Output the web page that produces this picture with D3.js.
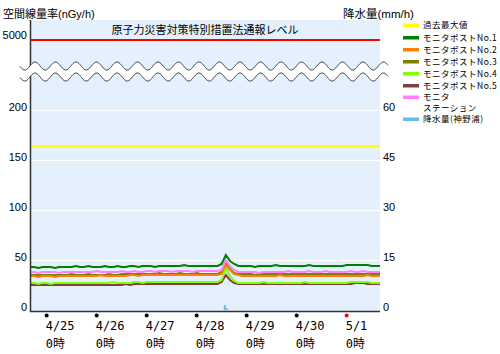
<!DOCTYPE html>
<html>
<head>
<meta charset="utf-8">
<script src="https://cdn.jsdelivr.net/npm/d3@7"></script>
<style>
  body { margin: 0; background: #fff; }
  svg text { font-family: "Liberation Sans", "Noto Sans CJK JP", sans-serif; }
</style>
</head>
<body>
<svg id="chart" width="500" height="354"></svg>
<script>
// 2-hourly readings, 4/24 16:00 .. 5/1 16:00 (nGy/h)
const startTime = new Date(2024, 3, 24, 16);
const stepHours = 2;

const post1 = [43,43,42,43,43,43,42,43,43,43,43,44,
  43,43,44,43,43,43,44,43,43,44,43,43,
  44,44,43,44,44,44,43,44,44,44,44,44,
  44,45,44,44,44,44,44,44,44,44,
  46,55,49,46,44,
  44,44,44,43,44,44,44,44,45,44,44,44,
  44,44,44,44,45,44,44,44,44,44,44,44,
  44,45,45,45,45,45,45,44,44,44];
const post2 = [34,34,33,34,34,34,33,34,34,34,34,34,
  34,34,34,34,34,35,34,34,34,34,34,34,
  35,35,34,35,35,35,35,35,35,35,35,35,
  35,35,35,35,35,35,35,35,35,35,
  36,45,40,36,35,
  34,34,34,34,34,34,34,34,34,35,34,34,
  34,34,34,34,34,34,34,34,34,34,34,34,
  34,34,34,34,34,34,35,34,34,34];
const post3 = [35,35,35,35,35,35,35,35,35,35,36,35,
  35,35,36,35,35,35,35,36,35,35,36,36,
  36,36,36,36,36,36,36,37,36,36,36,36,
  37,36,36,36,37,36,36,36,36,36,
  38,47,41,37,36,
  36,36,36,35,36,36,36,36,36,36,36,36,
  36,36,36,36,36,36,36,36,36,36,36,36,
  36,36,36,36,36,36,36,36,36,36];
const post4 = [27,27,26,27,27,26,27,27,27,27,27,27,
  27,27,27,27,27,27,27,27,28,27,27,27,
  27,28,28,27,28,28,28,28,28,28,28,28,
  28,28,28,28,28,28,28,28,28,28,
  30,42,34,29,27,
  27,27,27,27,27,28,27,27,27,27,27,27,
  27,27,27,28,27,27,27,27,27,27,27,27,
  27,27,28,28,28,28,28,27,27,27];
const post5 = [25,25,25,25,25,25,25,25,25,25,25,25,
  25,25,25,25,25,25,25,25,25,25,25,26,
  25,26,26,26,26,26,26,26,26,26,26,26,
  26,26,26,26,26,26,26,26,26,26,
  28,35,30,27,26,
  26,26,26,26,26,26,26,26,26,26,26,26,
  26,26,26,26,26,26,26,26,26,26,26,26,
  26,26,26,27,27,27,26,26,26,26];
const station = [38,38,37,38,38,38,38,37,38,38,38,38,
  38,38,38,38,39,38,38,38,38,38,39,38,
  38,39,38,38,39,39,38,39,39,39,38,39,
  39,39,39,38,39,39,39,39,39,39,
  40,50,44,40,38,
  38,38,38,38,37,38,38,38,38,38,38,39,
  38,38,38,38,39,38,38,38,39,38,38,38,
  38,38,39,38,38,39,38,38,38,38];

// hourly rain (mm/h), only non-zero hours
const rainTimes = [new Date(2024, 3, 28, 13), new Date(2024, 3, 28, 14)];
const rainValues = [1.5, 0.5];

const pastMax = 164;
const reportLevel = 5000;

const leftTicks = [0, 50, 100, 150, 200];
const rightTicks = [0, 15, 30, 45, 60];
const dayTicks = [25, 26, 27, 28, 29, 30].map(d => new Date(2024, 3, d)).concat([new Date(2024, 4, 1)]);
const dayLabels = ['4/25', '4/26', '4/27', '4/28', '4/29', '4/30', '5/1'];

const legendNames = ['過去最大値', 'モニタポストNo.1', 'モニタポストNo.2', 'モニタポストNo.3',
  'モニタポストNo.4', 'モニタポストNo.5', 'モニタ\nステーション', '降水量(神野浦)'];
const legendColors = ['#ffff00', '#007f00', '#ff7f00', '#7f7f00', '#7fff00', '#7f3f3f', '#ff80ff', '#66bbee'];

const svg = d3.select('#chart');
const plotL = 30, plotR = 380, plotT = 20, plotB = 310;

const x = d3.scaleTime()
  .domain([startTime, new Date(2024, 4, 1, 16)])
  .range([plotL, plotR]);
const y = d3.scaleLinear().domain([0, 200]).range([plotB, 110]);
const yTop = d3.scaleLinear().domain([4400, 5300]).range([80, 20]);
const yRain = d3.scaleLinear().domain([0, 60]).range([plotB, 110]);

svg.append('rect')
  .attr('x', plotL).attr('y', plotT)
  .attr('width', plotR - plotL).attr('height', 311 - plotT)
  .attr('fill', '#e4f1fc');

// gridlines
svg.append('g').selectAll('line')
  .data(leftTicks.filter(d => d > 0))
  .join('line')
  .attr('x1', plotL).attr('x2', plotR)
  .attr('y1', d => y(d) + 0.5).attr('y2', d => y(d) + 0.5)
  .attr('stroke', '#fff');

// reporting level
svg.append('line')
  .attr('x1', plotL).attr('x2', plotR)
  .attr('y1', yTop(reportLevel)).attr('y2', yTop(reportLevel))
  .attr('stroke', '#ff0000').attr('stroke-width', 2);
svg.append('text')
  .attr('x', 205).attr('y', 34)
  .attr('text-anchor', 'middle')
  .attr('font-size', 11)
  .text('原子力災害対策特別措置法通報レベル');

// past max
svg.append('line')
  .attr('x1', plotL).attr('x2', plotR)
  .attr('y1', y(pastMax)).attr('y2', y(pastMax))
  .attr('stroke', '#ffff00').attr('stroke-width', 2);

// rain bars
const hourW = x(new Date(2024, 3, 25, 1)) - x(new Date(2024, 3, 25, 0));
svg.append('g').selectAll('rect')
  .data(rainValues)
  .join('rect')
  .attr('x', (d, i) => x(rainTimes[i]))
  .attr('width', hourW)
  .attr('y', d => yRain(d))
  .attr('height', d => plotB - yRain(d))
  .attr('fill', '#66bbee');

// series
const series = [
  { values: post5, color: legendColors[5] },
  { values: post4, color: legendColors[4] },
  { values: post3, color: legendColors[3] },
  { values: post2, color: legendColors[2] },
  { values: station, color: legendColors[6] },
  { values: post1, color: legendColors[1] }
];
const line = d3.line()
  .x((d, i) => x(d3.timeHour.offset(startTime, i * stepHours)))
  .y(d => y(d))
  .curve(d3.curveLinear);
svg.append('g').selectAll('path')
  .data(series)
  .join('path')
  .attr('d', d => line(d.values))
  .attr('fill', 'none')
  .attr('stroke', d => d.color)
  .attr('stroke-width', 2);

// axes lines
svg.append('line')
  .attr('x1', plotL + 0.5).attr('x2', plotL + 0.5)
  .attr('y1', plotT).attr('y2', 312)
  .attr('stroke', '#333').attr('stroke-width', 1.5);
svg.append('line')
  .attr('x1', plotL).attr('x2', plotR)
  .attr('y1', 311.5).attr('y2', 311.5)
  .attr('stroke', '#333').attr('stroke-width', 1.5);

// axis break waves
const wavePeriod = 20.5, waveAmp = 4;
const wavePts = d3.range(20, 388.5, 0.5);
const waveY = (px, c) => c - waveAmp * Math.cos((px - 35) / wavePeriod * 2 * Math.PI);
svg.append('path')
  .attr('d', d3.area().x(d => d).y0(d => waveY(d, 66)).y1(d => waveY(d, 77))(wavePts))
  .attr('fill', '#fff');
[66, 77].forEach(c => {
  svg.append('path')
    .attr('d', d3.line().x(d => d).y(d => waveY(d, c))(wavePts))
    .attr('fill', 'none')
    .attr('stroke', '#333')
    .attr('stroke-width', 1);
});

// left labels
const leftG = svg.append('g').attr('font-size', 11).attr('text-anchor', 'end');
leftG.selectAll('text.t')
  .data(leftTicks)
  .join('text')
  .attr('x', 27).attr('y', d => y(d) + 1)
  .text(d => d);
leftG.append('text').attr('x', 27).attr('y', yTop(reportLevel) - 1).text(reportLevel);
svg.append('text')
  .attr('x', 3).attr('y', 18).attr('font-size', 11)
  .text('空間線量率(nGy/h)');

// right labels
svg.append('g').attr('font-size', 11).selectAll('text')
  .data(rightTicks)
  .join('text')
  .attr('x', 383).attr('y', d => yRain(d) + 1)
  .text(d => d);
svg.append('text')
  .attr('x', 343).attr('y', 18).attr('font-size', 11.5)
  .text('降水量(mm/h)');

// date ticks
const dateG = svg.append('g');
dateG.selectAll('circle')
  .data(dayTicks)
  .join('circle')
  .attr('cx', d => x(d)).attr('cy', 315.5).attr('r', 2)
  .attr('fill', (d, i) => i === dayTicks.length - 1 ? '#ff0000' : '#000');
dateG.selectAll('text.d')
  .data(dayTicks)
  .join('text')
  .attr('class', 'd')
  .attr('x', d => x(d) - 1).attr('y', 330)
  .attr('font-size', 12)
  .style('font-family', '"DejaVu Sans Mono", "Noto Sans CJK JP", monospace')
  .text((d, i) => dayLabels[i]);
dateG.selectAll('text.h')
  .data(dayTicks)
  .join('text')
  .attr('class', 'h')
  .attr('x', d => x(d) - 1).attr('y', 348)
  .attr('font-size', 12)
  .style('font-family', '"DejaVu Sans Mono", "Noto Sans CJK JP", monospace')
  .text('0時');

// legend
const rowY = [25, 37.5, 49.5, 61.5, 73.5, 85.5, 97, 119];
const legend = svg.append('g');
legendNames.forEach((name, i) => {
  legend.append('rect')
    .attr('x', 403).attr('y', rowY[i] - 1.5)
    .attr('width', 16).attr('height', 3.5)
    .attr('fill', legendColors[i]);
  name.split('\n').forEach((part, j) => {
    legend.append('text')
      .attr('x', 423).attr('y', rowY[i] + 3 + j * 10.5)
      .attr('font-size', 8.5)
      .attr('letter-spacing', 0.5)
      .style('font-family', '"Noto Sans CJK JP", sans-serif')
      .text(part);
  });
});
</script>
</body>
</html>
